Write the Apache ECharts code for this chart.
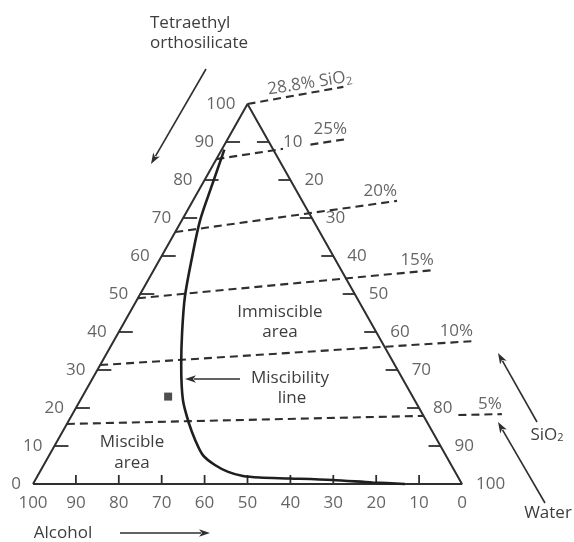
<!DOCTYPE html>
<html>
<head>
<meta charset="utf-8">
<script src="https://cdn.jsdelivr.net/npm/echarts/dist/echarts.min.js"></script>
<style>html,body{margin:0;padding:0;background:#fff}#c{width:574px;height:542px}</style>
</head>
<body>
<div id="c"></div>
<script>
// ---- Data (ternary: TEOS %, Water %; Alcohol = 100 - TEOS - Water) ----
const curveTEOS  = [88, 78.7, 69.2, 59.5, 49.2, 39.7, 31.3, 22.1, 15.8, 11.6, 7.6, 5.0, 3.2, 2.1, 1.7, 1.45, 1.05, 0.4, 0];
const curveWater = [0.6, 2.4, 4.3, 7.3, 10.8, 14.9, 18.9, 23.9, 28.5, 32.0, 35.8, 39.9, 43.9, 47.9, 52.0, 59.2, 69.2, 79.0, 86.7];

const sio2Labels     = ['28.8% SiO{s|2}', '25%', '20%', '15%', '10%', '5%'];
const sio2StartTEOS  = [100, 85.5, 66.3, 48.9, 31.3, 15.8];
const sio2StartWater = [0, 0, 0, 0, 0, 0];
const sio2EndTEOS    = [104.5, 90.8, 74.5, 56.3, 37.6, 18.4];
const sio2EndWater   = [20.1, 27.8, 47.6, 65.3, 83.8, 100.1];
const sio2Gaps       = [null, [0.51, 0.72], null, null, null, [0.82, 0.90]];

const sampleTEOS  = [23];
const sampleWater = [20];

const tickValues   = [10, 20, 30, 40, 50, 60, 70, 80, 90];
const leftLabels   = [0, 10, 20, 30, 40, 50, 60, 70, 80, 90, 100];   // TEOS
const rightLabels  = [10, 20, 30, 40, 50, 60, 70, 80, 90, 100];      // Water
const bottomLabels = [100, 90, 80, 70, 60, 50, 40, 30, 20, 10, 0];   // Alcohol

// ---- Styling ----
const FONT = "'Open Sans', 'Noto Sans', 'DejaVu Sans', sans-serif";
const TEXT = '#3d3d3d';
const INK = '#2f2f2f';
const FS = 17;
const SUB = { s: { fontSize: 11, verticalAlign: 'bottom', lineHeight: 13, fontFamily: FONT, color: TEXT } };

// ternary -> cartesian (side = 100, height scaled so TEOS maps directly)
function tern(t, w) { return [w + t / 2, t]; }
function lerp(a, b, f) { return [a[0] + (b[0] - a[0]) * f, a[1] + (b[1] - a[1]) * f]; }

const series = [];

// Triangle
series.push({
  type: 'line', data: [tern(0, 0), tern(0, 100), tern(100, 0), tern(0, 0)],
  symbol: 'none', lineStyle: { color: INK, width: 2 }, z: 3, silent: true
});

// SiO2 dashed lines (with gaps)
sio2Labels.forEach((lab, i) => {
  const a = tern(sio2StartTEOS[i], sio2StartWater[i]);
  const b = tern(sio2EndTEOS[i], sio2EndWater[i]);
  const segs = sio2Gaps[i] ? [[a, lerp(a, b, sio2Gaps[i][0])], [lerp(a, b, sio2Gaps[i][1]), b]] : [[a, b]];
  segs.forEach(s => series.push({
    type: 'line', data: s, symbol: 'none', silent: true, z: 2,
    lineStyle: { color: INK, width: 2.1, type: [8, 5] }
  }));
});

// SiO2 labels at line ends
series.push({
  type: 'scatter', symbolSize: 0, silent: true, z: 5,
  data: sio2Labels.map((lab, i) => ({
    value: tern(sio2EndTEOS[i], sio2EndWater[i]),
    label: {
      show: true, position: 'inside', align: 'right', verticalAlign: 'middle',
      formatter: lab, rotate: i === 0 ? 9 : 0,
      offset: i === 0 ? [10, -9] : [0, -10],
      fontSize: FS, fontFamily: FONT, color: TEXT, lineHeight: 20, rich: SUB
    }
  }))
});

// Miscibility curve
series.push({
  type: 'line', data: curveTEOS.map((t, i) => tern(t, curveWater[i])),
  symbol: 'none', smooth: 0.3, lineStyle: { color: '#1f1f1f', width: 2.6 }, z: 4, silent: true
});

// Sample point
series.push({
  type: 'scatter', symbol: 'rect', symbolSize: 8, z: 4, silent: true,
  itemStyle: { color: '#222' },
  data: sampleTEOS.map((t, i) => tern(t, sampleWater[i]))
});

// Ticks (custom, pixel lengths)
const tickData = [];
tickValues.forEach(v => {
  tickData.push(tern(v, 0).concat([14, 0]));          // left edge, pointing in
  tickData.push(tern(100 - v, v).concat([-12, 0]));   // right edge, pointing in
  tickData.push(tern(0, v).concat([0, -9]));          // bottom edge, pointing up
});
series.push({
  type: 'custom', silent: true, z: 3,
  encode: { x: 0, y: 1 },
  data: tickData,
  renderItem: (params, api) => {
    const p = api.coord([api.value(0), api.value(1)]);
    return { type: 'line', shape: { x1: p[0], y1: p[1], x2: p[0] + api.value(2), y2: p[1] + api.value(3) },
             style: { stroke: INK, lineWidth: 1.8 } };
  }
});

// Axis labels
function labelSeries(points, texts, position, distance) {
  return {
    type: 'scatter', symbolSize: 0, silent: true, z: 5,
    data: points.map((p, i) => ({ value: p, label: { show: true, position, distance, formatter: String(texts[i]) } })),
    label: { fontSize: FS, fontFamily: FONT, color: TEXT }
  };
}
series.push(labelSeries(leftLabels.map(v => tern(v, 0)), leftLabels, 'left', 12));
series.push(labelSeries(rightLabels.map(v => tern(100 - v, v)), rightLabels, 'right', 14));
series.push(labelSeries(bottomLabels.map(a => tern(0, 100 - a)), bottomLabels, 'bottom', 11));

// ---- Annotations (text + arrows) ----
function txt(x, y, text, align) {
  return { type: 'text', x, y, z: 10, silent: true,
    style: { text, fill: TEXT, font: FS + 'px ' + FONT, fontSize: FS, fontFamily: FONT,
             align: align || 'center', verticalAlign: 'middle', rich: SUB } };
}
function arrow(x1, y1, x2, y2) {
  const dx = x2 - x1, dy = y2 - y1, L = Math.hypot(dx, dy);
  const ux = dx / L, uy = dy / L, nx = -uy, ny = ux;
  const hl = 11, hw = 3.8;
  const bx = x2 - ux * hl, by = y2 - uy * hl;
  return [
    { type: 'line', z: 10, silent: true, shape: { x1, y1, x2: bx + ux * 2, y2: by + uy * 2 }, style: { stroke: INK, lineWidth: 1.6 } },
    { type: 'polygon', z: 10, silent: true,
      shape: { points: [[x2, y2], [bx + nx * hw, by + ny * hw], [bx + ux * 3, by + uy * 3], [bx - nx * hw, by - ny * hw]] },
      style: { fill: INK } }
  ];
}
const graphics = [
  txt(150, 23, 'Tetraethyl', 'left'),
  txt(150, 43, 'orthosilicate', 'left'),
  txt(280, 312, 'Immiscible'),
  txt(280, 332, 'area'),
  txt(290, 378, 'Miscibility'),
  txt(292, 398, 'line'),
  txt(132, 442, 'Miscible'),
  txt(132, 463, 'area'),
  txt(547, 435, 'SiO{s|2}'),
  txt(548, 513, 'Water'),
  txt(63, 533, 'Alcohol'),
  ...arrow(206, 69, 151, 164),
  ...arrow(240, 379, 185, 379),
  ...arrow(537, 422, 498, 353),
  ...arrow(545, 503, 498, 422),
  ...arrow(120, 533, 210, 533)
];

const chart = echarts.init(document.getElementById('c'), null, { renderer: 'canvas' });
chart.setOption({
  animation: false,
  backgroundColor: '#fff',
  grid: { left: 0, right: 0, top: 0, bottom: 0 },
  xAxis: { type: 'value', min: -7.692, max: 126.11, show: false },
  yAxis: { type: 'value', min: -15.263, max: 127.368, show: false },
  series,
  graphic: graphics
});
</script>
</body>
</html>
